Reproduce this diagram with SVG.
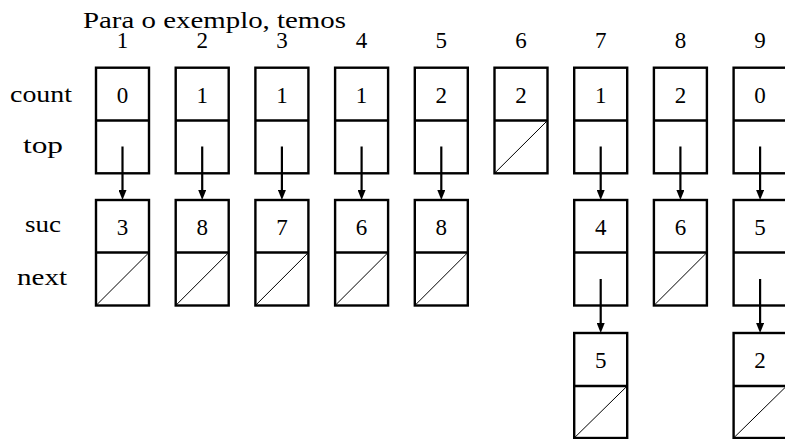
<svg xmlns="http://www.w3.org/2000/svg" width="785" height="439" viewBox="0 0 785 439">
<style>
text { font-family: 'Liberation Serif', 'DejaVu Serif', serif; font-size: 23px; fill: #000; }
.n { text-anchor: middle; }
.box { fill: none; stroke: #000; stroke-width: 2.4; }
.diag { stroke: #000; stroke-width: 1; }
.arr { stroke: #000; stroke-width: 2.2; fill: none; }
</style>
<defs>
<marker id="ah" viewBox="0 0 10 8" refX="0" refY="4" markerWidth="10" markerHeight="8" markerUnits="userSpaceOnUse" orient="auto">
<path d="M0,0 L10,4 L0,8 z" fill="#000"/>
</marker>
</defs>
<rect width="785" height="439" fill="#fff"/>
<g id="title"><text x="83" y="28" textLength="263" lengthAdjust="spacingAndGlyphs">Para o exemplo, temos</text></g>
<g id="labels">
<text x="10" y="102" textLength="62" lengthAdjust="spacingAndGlyphs">count</text>
<text x="23" y="153" textLength="40" lengthAdjust="spacingAndGlyphs">top</text>
<text x="25" y="232" textLength="36" lengthAdjust="spacingAndGlyphs">suc</text>
<text x="17" y="285" textLength="50" lengthAdjust="spacingAndGlyphs">next</text>
</g>
<g id="indices">
<text class="n" x="122.5" y="48">1</text>
<text class="n" x="202.2" y="48">2</text>
<text class="n" x="281.9" y="48">3</text>
<text class="n" x="361.6" y="48">4</text>
<text class="n" x="441.3" y="48">5</text>
<text class="n" x="521" y="48">6</text>
<text class="n" x="600.7" y="48">7</text>
<text class="n" x="680.4" y="48">8</text>
<text class="n" x="760.1" y="48">9</text>
</g>
<g id="v1"><rect class="box" x="96" y="67.7" width="53" height="105.6"/><line class="box" x1="96" y1="120.5" x2="149" y2="120.5"/><text class="n" x="122.5" y="103">0</text></g>
<g id="v2"><rect class="box" x="175.7" y="67.7" width="53" height="105.6"/><line class="box" x1="175.7" y1="120.5" x2="228.7" y2="120.5"/><text class="n" x="202.2" y="103">1</text></g>
<g id="v3"><rect class="box" x="255.4" y="67.7" width="53" height="105.6"/><line class="box" x1="255.4" y1="120.5" x2="308.4" y2="120.5"/><text class="n" x="281.9" y="103">1</text></g>
<g id="v4"><rect class="box" x="335.1" y="67.7" width="53" height="105.6"/><line class="box" x1="335.1" y1="120.5" x2="388.1" y2="120.5"/><text class="n" x="361.6" y="103">1</text></g>
<g id="v5"><rect class="box" x="414.8" y="67.7" width="53" height="105.6"/><line class="box" x1="414.8" y1="120.5" x2="467.8" y2="120.5"/><text class="n" x="441.3" y="103">2</text></g>
<g id="v6"><rect class="box" x="494.5" y="67.7" width="53" height="105.6"/><line class="box" x1="494.5" y1="120.5" x2="547.5" y2="120.5"/><line class="diag" x1="494.5" y1="173.3" x2="547.5" y2="120.5"/><text class="n" x="521" y="103">2</text></g>
<g id="v7"><rect class="box" x="574.2" y="67.7" width="53" height="105.6"/><line class="box" x1="574.2" y1="120.5" x2="627.2" y2="120.5"/><text class="n" x="600.7" y="103">1</text></g>
<g id="v8"><rect class="box" x="653.9" y="67.7" width="53" height="105.6"/><line class="box" x1="653.9" y1="120.5" x2="706.9" y2="120.5"/><text class="n" x="680.4" y="103">2</text></g>
<g id="v9"><rect class="box" x="733.6" y="67.7" width="53" height="105.6"/><line class="box" x1="733.6" y1="120.5" x2="786.6" y2="120.5"/><text class="n" x="760.1" y="103">0</text></g>
<g id="s1"><rect class="box" x="96" y="200" width="53" height="105.5"/><line class="box" x1="96" y1="252.5" x2="149" y2="252.5"/><line class="diag" x1="96" y1="305.5" x2="149" y2="252.5"/><text class="n" x="122.5" y="235">3</text></g>
<g id="s2"><rect class="box" x="175.7" y="200" width="53" height="105.5"/><line class="box" x1="175.7" y1="252.5" x2="228.7" y2="252.5"/><line class="diag" x1="175.7" y1="305.5" x2="228.7" y2="252.5"/><text class="n" x="202.2" y="235">8</text></g>
<g id="s3"><rect class="box" x="255.4" y="200" width="53" height="105.5"/><line class="box" x1="255.4" y1="252.5" x2="308.4" y2="252.5"/><line class="diag" x1="255.4" y1="305.5" x2="308.4" y2="252.5"/><text class="n" x="281.9" y="235">7</text></g>
<g id="s4"><rect class="box" x="335.1" y="200" width="53" height="105.5"/><line class="box" x1="335.1" y1="252.5" x2="388.1" y2="252.5"/><line class="diag" x1="335.1" y1="305.5" x2="388.1" y2="252.5"/><text class="n" x="361.6" y="235">6</text></g>
<g id="s5"><rect class="box" x="414.8" y="200" width="53" height="105.5"/><line class="box" x1="414.8" y1="252.5" x2="467.8" y2="252.5"/><line class="diag" x1="414.8" y1="305.5" x2="467.8" y2="252.5"/><text class="n" x="441.3" y="235">8</text></g>
<g id="s7"><rect class="box" x="574.2" y="200" width="53" height="105.5"/><line class="box" x1="574.2" y1="252.5" x2="627.2" y2="252.5"/><text class="n" x="600.7" y="235">4</text></g>
<g id="s8"><rect class="box" x="653.9" y="200" width="53" height="105.5"/><line class="box" x1="653.9" y1="252.5" x2="706.9" y2="252.5"/><line class="diag" x1="653.9" y1="305.5" x2="706.9" y2="252.5"/><text class="n" x="680.4" y="235">6</text></g>
<g id="s9"><rect class="box" x="733.6" y="200" width="53" height="105.5"/><line class="box" x1="733.6" y1="252.5" x2="786.6" y2="252.5"/><text class="n" x="760.1" y="235">5</text></g>
<g id="t7"><rect class="box" x="574.2" y="333" width="53" height="105"/><line class="box" x1="574.2" y1="386" x2="627.2" y2="386"/><line class="diag" x1="574.2" y1="438" x2="627.2" y2="386"/><text class="n" x="600.7" y="368">5</text></g>
<g id="t9"><rect class="box" x="733.6" y="333" width="53" height="105"/><line class="box" x1="733.6" y1="386" x2="786.6" y2="386"/><line class="diag" x1="733.6" y1="438" x2="786.6" y2="386"/><text class="n" x="760.1" y="368">2</text></g>
<g id="connectors">
<line class="arr" x1="122.5" y1="146.5" x2="122.5" y2="190" marker-end="url(#ah)"/>
<line class="arr" x1="202.2" y1="146.5" x2="202.2" y2="190" marker-end="url(#ah)"/>
<line class="arr" x1="281.9" y1="146.5" x2="281.9" y2="190" marker-end="url(#ah)"/>
<line class="arr" x1="361.6" y1="146.5" x2="361.6" y2="190" marker-end="url(#ah)"/>
<line class="arr" x1="441.3" y1="146.5" x2="441.3" y2="190" marker-end="url(#ah)"/>
<line class="arr" x1="600.7" y1="146.5" x2="600.7" y2="190" marker-end="url(#ah)"/>
<line class="arr" x1="680.4" y1="146.5" x2="680.4" y2="190" marker-end="url(#ah)"/>
<line class="arr" x1="760.1" y1="146.5" x2="760.1" y2="190" marker-end="url(#ah)"/>
<line class="arr" x1="600.7" y1="279" x2="600.7" y2="323" marker-end="url(#ah)"/>
<line class="arr" x1="760.1" y1="279" x2="760.1" y2="323" marker-end="url(#ah)"/>
</g>
</svg>
